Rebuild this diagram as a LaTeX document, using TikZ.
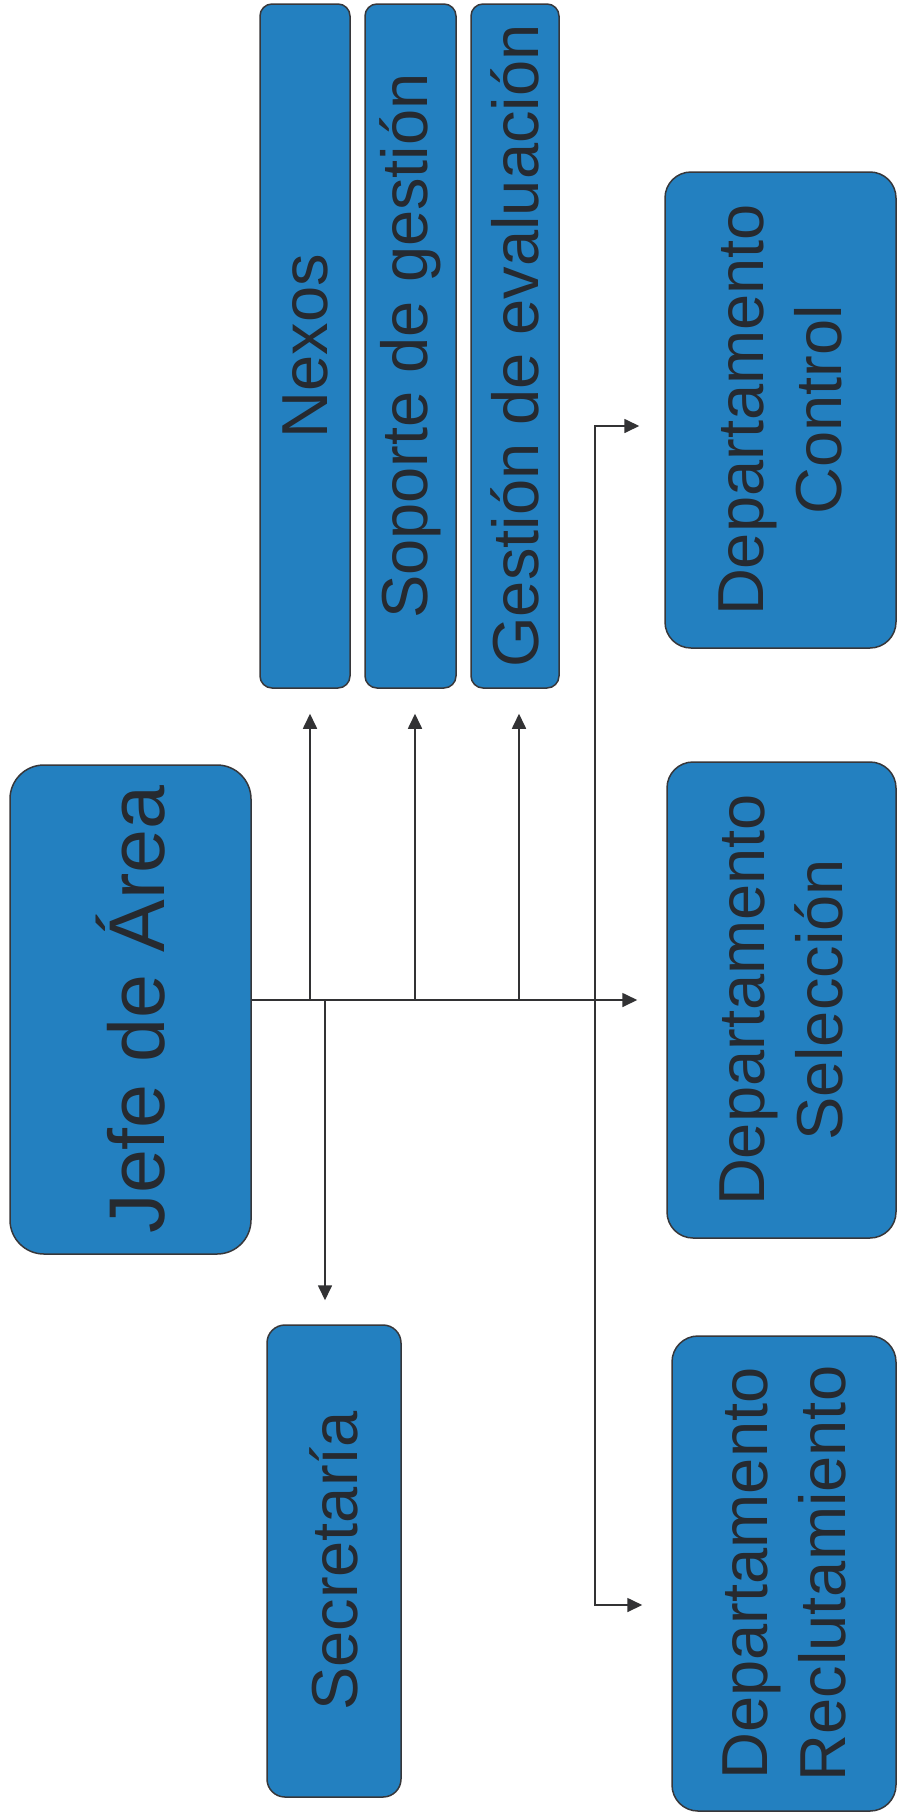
\documentclass[tikz,border=0pt]{standalone}
\usepackage{fontspec}
\setmainfont{Liberation Sans}
\usetikzlibrary{arrows.meta,calc}
\definecolor{boxblue}{RGB}{35,128,192}
\definecolor{boxline}{RGB}{55,55,58}
\definecolor{txt}{RGB}{38,42,48}
\definecolor{lin}{RGB}{50,50,52}
\tikzset{
  box/.style={draw=boxline, fill=boxblue, line width=0.75pt, rotate=90,
    inner sep=0pt, text=txt, align=center, font=\fontsize{32.5}{39}\selectfont},
  arr/.style={draw=lin, line width=0.85pt, -{Triangle[length=7.5pt,width=7pt]}},
}
\begin{document}
\begin{tikzpicture}[x=0.5pt,y=-0.5pt]
\useasboundingbox[fill=white] (0,0) rectangle (898,1815);
% nodes
\node[box, minimum width=244.5pt, minimum height=120.5pt, rounded corners=17pt,
  font=\fontsize{39.5}{47}\selectfont] (jefe) at (130.5,1009.5) {Jefe de Área};
\node[box, minimum width=342pt, minimum height=45pt, rounded corners=6pt] (nexos) at (305,346) {Nexos};
\node[box, minimum width=342pt, minimum height=45.5pt, rounded corners=6pt] (soporte) at (410.5,346) {Soporte de gestión};
\node[box, minimum width=342pt, minimum height=44pt, rounded corners=6pt] (gestion) at (515,346) {Gestión de evaluación};
\node[box, minimum width=238pt, minimum height=115.5pt, rounded corners=13pt] (control) at (780.5,410) {Departamento\\Control};
\node[box, minimum width=238pt, minimum height=114.5pt, rounded corners=13pt] (sel) at (781.5,1000) {Departamento\\Selección};
\node[box, minimum width=237.5pt, minimum height=112pt, rounded corners=13pt] (recl) at (784,1573.5) {Departamento\\Reclutamiento};
\node[box, minimum width=236pt, minimum height=67pt, rounded corners=9pt] (secr) at (334,1561) {Secretaría};
% connectors
\coordinate (bus) at (595,1000);
\draw[arr] (jefe.south |- sel.north) -- ($(sel.north)+(-29,0)$);
\draw[arr] ($(nexos.west |- sel.north)+(5,0)$) -- ($(nexos.west)+(5,25)$);
\draw[arr] ($(soporte.west |- sel.north)+(4.5,0)$) -- ($(soporte.west)+(4.5,25)$);
\draw[arr] ($(gestion.west |- sel.north)+(4,0)$) -- ($(gestion.west)+(4,25)$);
\draw[arr] ($(secr.east |- sel.north)+(-9,0)$) -- ($(secr.east)+(-9,-24)$);
\draw[arr] (bus) |- ($(control.north)+(-25,16)$);
\draw[arr] (bus) |- ($(recl.north)+(-29,31.5)$);
\end{tikzpicture}
\end{document}
